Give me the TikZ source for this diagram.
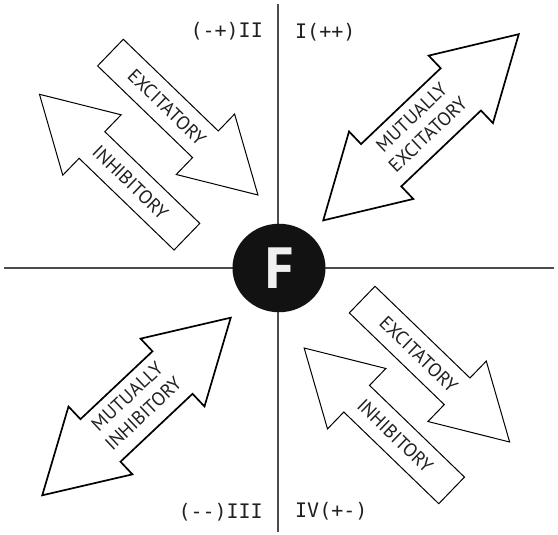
\documentclass[tikz,border=0pt]{standalone}
\usepackage{fontspec}
\setmainfont{Open Sans}
\setmonofont{DejaVu Sans Mono}
\newfontfamily\arrowfont{PT Sans}
\usetikzlibrary{shapes.geometric}

% one-headed arrow, tip at +x
\newcommand{\singlearrow}[1]{\draw[#1] (-102.5,18.5) -- (29.5,18.5) -- (29.5,42) -- (102.5,0)
  -- (29.5,-42) -- (29.5,-18.5) -- (-102.5,-18.5) -- cycle;}
% two-headed arrow, #2 = half length
\newcommand{\doublearrow}[2]{\draw[#1] (-#2,0) -- (-#2+80,46.6) -- (-#2+80,29.2) -- (#2-80,29.2)
  -- (#2-80,46.6) -- (#2,0) -- (#2-80,-46.6) -- (#2-80,-29.2) -- (-#2+80,-29.2) -- (-#2+80,-46.6) -- cycle;}

\begin{document}
\begin{tikzpicture}[x=1pt,y=1pt,
    thinarrow/.style={draw=black,line width=1pt,fill=white},
    fatarrow/.style={draw=black,line width=1.7pt,fill=white},
    arrowtext/.style={font=\arrowfont\fontsize{19}{23.5}\selectfont,text=black!87,align=center,inner sep=0pt},
    quadrant/.style={font=\ttfamily\fontsize{20}{24}\selectfont,text=black!87,inner sep=0pt}]

	\useasboundingbox (-279,-267) rectangle (279,268);

	% axes
	\coordinate (west) at (-275,0);
	\coordinate (east) at (275,0);
	\coordinate (north) at (-1,264);
	\coordinate (south) at (-1,-264);
	\draw[line width=1.5pt,black!70] (west) -- (east) (north) -- (south);

	\node[ellipse,fill=black!93,minimum width=93pt,minimum height=88.5pt,inner sep=0pt,
	  text=black!6,font=\bfseries\fontsize{57}{57}\selectfont] (F) at (0,0) {F};

	\node[quadrant,anchor=east] (q2) at (-16,237) {(-+)II};
	\node[quadrant,anchor=west] (q1) at (16,236) {I(++)};
	\node[quadrant,anchor=east] (q3) at (-16,-244) {(-{}-)III};
	\node[quadrant,anchor=west] (q4) at (16,-243) {IV(+-)};

	% II
	\begin{scope}[shift={(-94.8,144.2)},rotate=-44]
		\singlearrow{thinarrow}
		\node[arrowtext,rotate=-44] (exc2) at (-24,0) {EXCITATORY};
	\end{scope}
	\begin{scope}[shift={(-165.8,102.5)},rotate=136]
		\singlearrow{thinarrow}
		\node[arrowtext,rotate=-44] (inh2) at (-24,0) {INHIBITORY};
	\end{scope}

	% I
	\begin{scope}[shift={(142,140.7)},rotate=43.6]
		\doublearrow{fatarrow}{135}
		\node[arrowtext,rotate=43.6] (mex) at (0,2) {MUTUALLY\\EXCITATORY};
	\end{scope}

	% III
	\begin{scope}[shift={(-142.5,-138.5)},rotate=43.3]
		\doublearrow{fatarrow}{129.5}
		\node[arrowtext,rotate=43.3] (minh) at (0,2) {MUTUALLY\\INHIBITORY};
	\end{scope}

	% IV
	\begin{scope}[shift={(156.9,-102.8)},rotate=-44]
		\singlearrow{thinarrow}
		\node[arrowtext,rotate=-44] (exc4) at (-24,0) {EXCITATORY};
	\end{scope}
	\begin{scope}[shift={(98.9,-151.2)},rotate=136]
		\singlearrow{thinarrow}
		\node[arrowtext,rotate=-44] (inh4) at (-24,0) {INHIBITORY};
	\end{scope}
\end{tikzpicture}
\end{document}
